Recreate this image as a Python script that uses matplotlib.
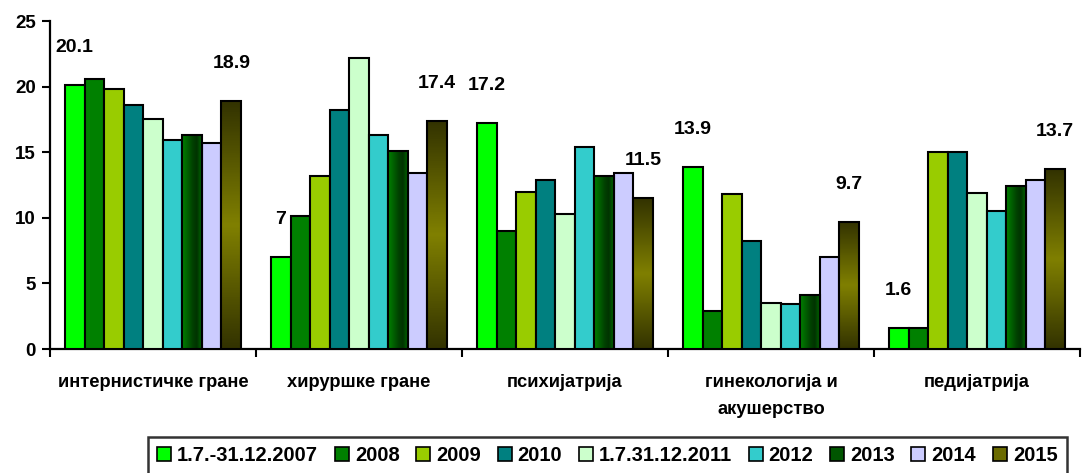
import numpy as np
import matplotlib
matplotlib.use('Agg')
import matplotlib.pyplot as plt
from matplotlib.colors import LinearSegmentedColormap
from matplotlib.patches import Patch

# Podaci
kategorije = ['интернистичке гране', 'хируршке гране', 'психијатрија',
              'гинекологија и\nакушерство', 'педијатрија']
serije = ['1.7.-31.12.2007', '2008', '2009', '2010', '1.7.31.12.2011',
          '2012', '2013', '2014', '2015']
v2007 = [20.1, 7.0, 17.2, 13.9, 1.6]
v2008 = [20.6, 10.1, 9.0, 2.9, 1.6]
v2009 = [19.8, 13.2, 12.0, 11.8, 15.0]
v2010 = [18.6, 18.2, 12.9, 8.2, 15.0]
v2011 = [17.5, 22.2, 10.3, 3.5, 11.9]
v2012 = [15.9, 16.3, 15.4, 3.4, 10.5]
v2013 = [16.3, 15.1, 13.2, 4.1, 12.4]
v2014 = [15.7, 13.4, 13.4, 7.0, 12.9]
v2015 = [18.9, 17.4, 11.5, 9.7, 13.7]
vrednosti = [v2007, v2008, v2009, v2010, v2011, v2012, v2013, v2014, v2015]
boje = ['#00FF00', '#008000', '#99CC00', '#008080', '#CCFFCC',
        '#33CCCC', '#005500', '#CCCCFF', '#6B6B00']

# gradijenti za 2013 (horizontalni) i 2015 (vertikalni)
cm2013 = LinearSegmentedColormap.from_list('g13', [(0, '#008000'), (0.55, '#004000'),
                                                   (0.75, '#003300'), (1, '#006600')])
cm2015 = LinearSegmentedColormap.from_list('g15', [(0, '#333300'), (0.5, '#808000'),
                                                   (1, '#333300')])

font_osn = ['Liberation Sans', 'DejaVu Sans']

fig = plt.figure(figsize=(10.86, 4.73), dpi=100)
ax = fig.add_axes([50 / 1086, 124 / 473, 1030 / 1086, 328 / 473])

x = np.arange(len(kategorije))
n = len(serije)
w = 0.855 / n

for i, (naziv, vals, boja) in enumerate(zip(serije, vrednosti, boje)):
    pos = x - 0.4275 + w * (i + 0.5)
    if naziv in ('2013', '2015'):
        bars = ax.bar(pos, vals, w, facecolor='none', edgecolor='black',
                      linewidth=1.5, zorder=4)
        for b in bars:
            x0, y0 = b.get_x(), b.get_y()
            bw, bh = b.get_width(), b.get_height()
            if naziv == '2013':
                grad = np.linspace(0, 1, 64).reshape(1, -1)
                cmap = cm2013
            else:
                grad = np.linspace(0, 1, 64).reshape(-1, 1)
                cmap = cm2015
            im = ax.imshow(grad, extent=[x0, x0 + bw, y0, y0 + bh], aspect='auto',
                           cmap=cmap, origin='lower', zorder=3, interpolation='bilinear')
            im.set_clip_path(b)
    else:
        ax.bar(pos, vals, w, color=boja, edgecolor='black', linewidth=1.5, zorder=3)

# oznake vrednosti (prva i poslednja serija)
for j in range(len(kategorije)):
    for i in (0, n - 1):
        pos = x[j] - 0.4275 + w * (i + 0.5)
        v = vrednosti[i][j]
        txt = f'{v:g}'
        ax.text(pos, v + 2.85, txt, ha='center', va='center', fontsize=14,
                fontweight='bold', family=font_osn)

ax.set_xlim(-0.5, len(kategorije) - 0.5)
ax.set_ylim(0, 25)
ax.set_yticks(np.arange(0, 26, 5))
ax.tick_params(axis='y', direction='out', length=6, width=1.5, pad=4)
for lab in ax.get_yticklabels():
    lab.set_fontsize(13.5)
    lab.set_fontweight('bold')
    lab.set_family(font_osn)

ax.set_xticks(np.arange(-0.5, len(kategorije), 1))
ax.set_xticklabels([])
ax.tick_params(axis='x', which='major', direction='out', length=6, width=1.5)
ax.set_xticks(x, minor=True)
ax.set_xticklabels(kategorije, minor=True, fontsize=13.2, fontweight='bold',
                   family=font_osn, linespacing=1.75, va='top')
ax.tick_params(axis='x', which='minor', length=0, pad=18)

for s in ('top', 'right'):
    ax.spines[s].set_visible(False)
for s in ('left', 'bottom'):
    ax.spines[s].set_linewidth(1.6)

# legenda
rucke = [Patch(facecolor=b, edgecolor='black', linewidth=1.2) for b in boje]
leg = fig.legend(rucke, serije, loc='upper left', bbox_to_anchor=(148 / 1086, 1 - 437 / 473),
                 ncol=n, frameon=True, fancybox=False, handlelength=0.7, handleheight=0.7,
                 handletextpad=0.3, columnspacing=0.82, borderpad=0.45, borderaxespad=0,
                 prop={'family': 'Liberation Sans', 'weight': 'bold', 'size': 14.5})
leg.get_frame().set_edgecolor('black')
leg.get_frame().set_linewidth(1.8)

fig.savefig('out.png', dpi=100)
